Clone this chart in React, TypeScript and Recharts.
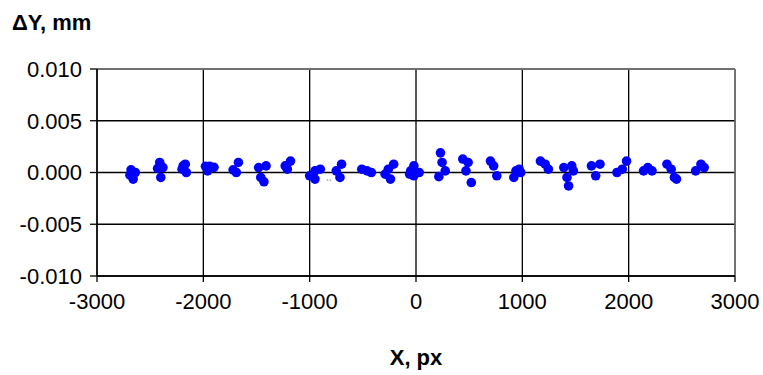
import React from "react";
import {
  ScatterChart,
  Scatter,
  XAxis,
  YAxis,
  CartesianGrid,
  ReferenceLine,
} from "recharts";

// --- Data ---
const xPx = [
  -2680, -2640, -2660, -2690,
  -2430, -2410, -2380, -2400,
  -2200, -2190, -2170, -2160,
  -1980, -1940, -1900, -1960,
  -1720, -1670, -1690,
  -1480, -1410, -1460, -1430,
  -1230, -1180, -1210,
  -1000, -950, -900, -950,
  -750, -700, -715,
  -510, -460, -420,
  -290, -210, -240, -260,
  -20, -50, 30, -20, -60,
  230, 245, 275, 215,
  440, 490, 470, 520,
  700, 730, 760,
  940, 970, 920, 985,
  1170, 1215, 1245,
  1390, 1465, 1480, 1420, 1435,
  1650, 1730, 1690,
  1890, 1940, 1980,
  2140, 2180, 2220,
  2360, 2400, 2430, 2450,
  2630, 2680, 2710,
];

const dYmm = [
  0.00026, 0, -0.00064, -0.00026,
  0.00039, 0.00097, 0.00048, -0.00048,
  0.00032, 0.00064, 0.0008, 0,
  0.0006, 0.0006, 0.0005, 0.00016,
  0.00026, 0.00097, 0,
  0.00048, 0.00064, -0.00048, -0.0009,
  0.00064, 0.0011, 0.00032,
  -0.00032, 0.00016, 0.00032, -0.00064,
  0.00016, 0.0008, -0.00048,
  0.00032, 0.00016, 0,
  -0.00016, 0.0008, -0.00064, 0.00032,
  0.00064, 0.00016, 0, -0.00032, -0.00016,
  0.0019, 0.00097, 0.00016, -0.0004,
  0.0013, 0.00097, 0.00016, -0.00097,
  0.0011, 0.00064, -0.00032,
  0.00016, 0.00032, -0.00048, 0,
  0.0011, 0.0008, 0.00032,
  0.00048, 0.00064, 0.00016, -0.00048, -0.0013,
  0.00064, 0.0008, -0.00032,
  0, 0.00032, 0.0011,
  0.00016, 0.00048, 0.00016,
  0.0008, 0.00032, -0.00048, -0.00064,
  0.00016, 0.0008, 0.00048,
];

const xTicks = [-3000, -2000, -1000, 0, 1000, 2000, 3000];
const yTicks = [-0.01, -0.005, 0, 0.005, 0.01];

const data = xPx.map((x, i) => ({ x, y: dYmm[i] }));

const FONT = "'Liberation Sans', Arial, sans-serif";
const tickStyle = { fill: "#000", fontSize: 22, fontFamily: FONT };

const Dot = (props: any) => (
  <circle cx={props.cx} cy={props.cy} r={4.8} fill="#0000ff" />
);

export default function App() {
  return (
    <div style={{ position: "absolute", left: 0, top: 0, width: 763, height: 375, background: "#fff" }}>
      <ScatterChart
        width={763}
        height={375}
        margin={{ top: 69, right: 28, bottom: 59, left: 0 }}
      >
        <CartesianGrid stroke="#000" strokeWidth={1.3} />
        <ReferenceLine y={0.01} stroke="#808080" strokeWidth={1.3} />
        <ReferenceLine x={3000} stroke="#808080" strokeWidth={1.3} />
        <XAxis
          type="number"
          dataKey="x"
          domain={[-3000, 3000]}
          ticks={xTicks}
          interval={0}
          height={40}
          stroke="#000"
          strokeWidth={1.3}
          tickSize={6}
          tickMargin={11}
          tick={tickStyle}
        />
        <YAxis
          type="number"
          dataKey="y"
          domain={[-0.01, 0.01]}
          ticks={yTicks}
          interval={0}
          width={97}
          stroke="#000"
          strokeWidth={1.3}
          tickSize={7}
          tickMargin={8}
          tick={tickStyle}
          tickFormatter={(v: number) => v.toFixed(3)}
        />
        <Scatter data={data} shape={Dot} isAnimationActive={false} />
        <text x={12} y={30} fontFamily={FONT} fontSize={22} fontWeight="bold" fill="#000">
          ΔY, mm
        </text>
        <text x={416} y={365} textAnchor="middle" fontFamily={FONT} fontSize={22} fontWeight="bold" fill="#000">
          X, px
        </text>
        <text x={326} y={186} fontFamily={FONT} fontSize={9} fill="#555">
          ``
        </text>
      </ScatterChart>
    </div>
  );
}
